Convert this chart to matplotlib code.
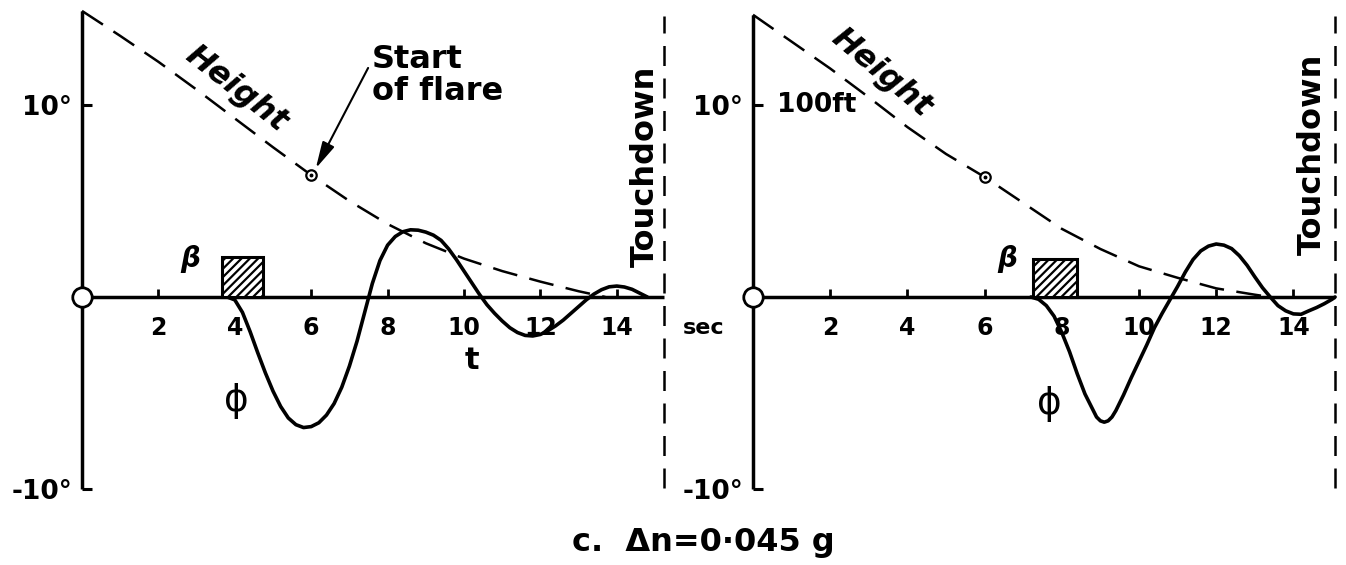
import matplotlib
matplotlib.use("Agg")
import matplotlib.pyplot as plt
from matplotlib import font_manager
from matplotlib.patches import Rectangle

# font: narrow sans if available, else DejaVu
names = {f.name for f in font_manager.fontManager.ttflist}
FONT = 'Liberation Sans Narrow' if 'Liberation Sans Narrow' in names else 'DejaVu Sans'
plt.rcParams['font.family'] = [FONT, 'DejaVu Sans']
plt.rcParams['font.weight'] = 'bold'
plt.rcParams['hatch.linewidth'] = 1.6

# ---- data ----
x_ticks = [2, 4, 6, 8, 10, 12, 14]
y_ticks = [10, -10]
y_tick_labels = ['10°', '-10°']

# left panel
phi_t_a = [3.8, 4.0, 4.2, 4.4, 4.6, 4.8, 5.0, 5.2, 5.4, 5.6, 5.8, 6.0, 6.2, 6.4, 6.6,
           6.8, 7.0, 7.2, 7.4, 7.6, 7.8, 8.0, 8.2, 8.4, 8.6, 8.8, 9.0, 9.2, 9.4, 9.6,
           9.8, 10.0, 10.2, 10.4, 10.6, 10.8, 11.0, 11.2, 11.4, 11.6, 11.8, 12.0, 12.2,
           12.4, 12.6, 12.8, 13.0, 13.2, 13.4, 13.6, 13.8, 14.0, 14.2, 14.4, 14.6, 14.8]
phi_a = [0, -0.15, -0.8, -1.8, -2.9, -3.95, -4.9, -5.7, -6.3, -6.65, -6.8, -6.75, -6.55,
         -6.15, -5.55, -4.7, -3.6, -2.3, -0.8, 0.7, 1.9, 2.7, 3.15, 3.4, 3.5, 3.48, 3.38,
         3.22, 2.95, 2.5, 1.95, 1.35, 0.75, 0.15, -0.4, -0.85, -1.25, -1.6, -1.85, -2.0,
         -2.03, -1.95, -1.75, -1.5, -1.2, -0.85, -0.5, -0.15, 0.15, 0.38, 0.53, 0.57,
         0.52, 0.4, 0.2, 0.0]
height_t_a = [0, 1, 2, 3, 4, 5, 6, 7, 8, 9, 10, 11, 12, 13, 13.7]
height_a = [14.9, 13.6, 12.25, 10.8, 9.3, 7.8, 6.35, 5.0, 3.8, 2.8, 2.0, 1.35, 0.8, 0.3, 0.0]
beta_box_a = (3.66, 4.74, 2.1)   # t start, t end, height
flare_a = (6.0, 6.35)
touchdown_a = 15.24

# right panel
phi_t_b = [7.2, 7.4, 7.6, 7.8, 8.0, 8.2, 8.4, 8.6, 8.8, 8.9, 9.0, 9.1, 9.2, 9.3, 9.4,
           9.6, 9.8, 10.0, 10.2, 10.4, 10.6, 10.8, 11.0, 11.2, 11.4, 11.6, 11.8, 12.0,
           12.2, 12.4, 12.6, 12.8, 13.0, 13.2, 13.4, 13.6, 13.8, 14.0, 14.2, 14.4, 14.6,
           14.8, 15.0, 15.08]
phi_b = [0, -0.12, -0.45, -1.0, -1.85, -2.85, -4.0, -5.05, -5.85, -6.25, -6.45, -6.52,
         -6.45, -6.25, -5.92, -5.1, -4.2, -3.35, -2.5, -1.6, -0.85, -0.15, 0.55, 1.3,
         1.95, 2.4, 2.65, 2.76, 2.7, 2.52, 2.15, 1.65, 1.05, 0.48, 0.0, -0.45, -0.72,
         -0.88, -0.9, -0.72, -0.55, -0.35, -0.12, 0.0]
height_t_b = [0, 1, 2, 3, 4, 5, 6, 7, 8, 9, 10, 11, 12, 13, 13.4]
height_b = [14.7, 13.3, 11.9, 10.4, 8.85, 7.45, 6.25, 4.9, 3.55, 2.5, 1.6, 1.0, 0.45, 0.12, 0.0]
beta_box_b = (7.25, 8.4, 2.0)
flare_b = (6.0, 6.25)
touchdown_b = 15.08

W, H = 1346, 565
ZERO_PX = 297      # pixel row of the zero line
PX_DEG = 19.2      # pixels per degree
fig = plt.figure(figsize=(W / 100, H / 100), dpi=100)


def make_panel(x0_px, px_per_s, xmax):
    left = x0_px - 0.5 * px_per_s
    width = (xmax + 0.5) * px_per_s
    bottom_px = ZERO_PX + 10.5 * PX_DEG
    ax = fig.add_axes([left / W, (H - bottom_px) / H, width / W, 25.8 * PX_DEG / H])
    ax.set_xlim(-0.5, xmax)
    ax.set_ylim(-10.5, 15.3)
    ax.patch.set_visible(False)
    for s in ['top', 'right']:
        ax.spines[s].set_visible(False)
    for s in ['left', 'bottom']:
        ax.spines[s].set_position(('data', 0))
        ax.spines[s].set_linewidth(2.5)
        ax.spines[s].set_capstyle('butt')
    ax.set_xticks(x_ticks)
    ax.set_yticks(y_ticks)
    ax.set_yticklabels(y_tick_labels)
    ax.tick_params(axis='x', direction='in', length=6, width=2, pad=14, labelsize=17)
    ax.tick_params(axis='y', direction='in', length=7, width=2.2, pad=7, labelsize=19)
    return ax


def draw(ax, phi_t, phi, h_t, h, box, flare, td):
    ax.spines['bottom'].set_bounds(0, td)
    ax.spines['left'].set_bounds(-10, h[0])
    ax.plot(h_t, h, color='black', lw=1.8, dashes=(10, 5), zorder=3)
    ax.plot(phi_t, phi, color='black', lw=2.6, solid_capstyle='round',
            solid_joinstyle='round', zorder=4)
    ax.add_patch(Rectangle((box[0], 0), box[1] - box[0], box[2], facecolor='white',
                           edgecolor='black', hatch='////', lw=2.2, zorder=5))
    ax.plot([0], [0], 'o', ms=14, mfc='white', mec='black', mew=2, zorder=6, clip_on=False)
    ax.plot([flare[0]], [flare[1]], 'o', ms=7.5, mfc='white', mec='black', mew=1.6, zorder=6)
    ax.plot([flare[0]], [flare[1]], 'o', ms=1.8, color='black', zorder=7)
    ax.plot([td, td], [-9.95, 14.65], color='black', lw=1.8, dashes=(8, 5), clip_on=False)


ax1 = make_panel(82, 38.2, 15.5)
draw(ax1, phi_t_a, phi_a, height_t_a, height_a, beta_box_a, flare_a, touchdown_a)
ax2 = make_panel(753, 38.6, 15.3)
draw(ax2, phi_t_b, phi_b, height_t_b, height_b, beta_box_b, flare_b, touchdown_b)

# left panel text
ax1.text(4.03, 10.83, 'Height', rotation=-38, rotation_mode='anchor', ha='center',
         va='center', fontsize=23, style='italic')
ax1.text(7.59, 13.2, 'Start\nof flare', ha='left', va='top', fontsize=23, linespacing=1.05)
ax1.annotate('', xy=(6.12, 6.7), xytext=(7.49, 11.93),
             arrowprops=dict(arrowstyle='-|>,head_width=0.22,head_length=0.9',
                             color='black', lw=1.5, mutation_scale=18,
                             shrinkA=0, shrinkB=0))
ax1.text(14.74, 6.8, 'Touchdown', rotation=90, ha='center', va='center', fontsize=23)
ax1.text(2.83, 1.98, 'β', ha='center', va='center', fontsize=20, style='italic')
ax1.text(4.03, -5.42, 'ϕ', ha='center', va='center', fontsize=27, family=['DejaVu Sans'],
         weight='normal')
ax1.text(10.2, -3.33, 't', ha='center', va='center', fontsize=22)
ax1.text(15.73, -1.6, 'sec', ha='left', va='center', fontsize=16)

# right panel text
ax2.text(3.32, 11.7, 'Height', rotation=-40, rotation_mode='anchor', ha='center',
         va='center', fontsize=23, style='italic')
ax2.text(0.62, 10.0, '100ft', ha='left', va='center', fontsize=19)
ax2.text(14.48, 7.45, 'Touchdown', rotation=90, ha='center', va='center', fontsize=23)
ax2.text(6.58, 1.98, 'β', ha='center', va='center', fontsize=20, style='italic')
ax2.text(7.67, -5.57, 'ϕ', ha='center', va='center', fontsize=27, family=['DejaVu Sans'],
         weight='normal')

fig.text(703 / W, 1 - 542 / H, 'c.  Δn=0·045 g', ha='center', va='center', fontsize=23)

fig.savefig('out.png', dpi=100)
